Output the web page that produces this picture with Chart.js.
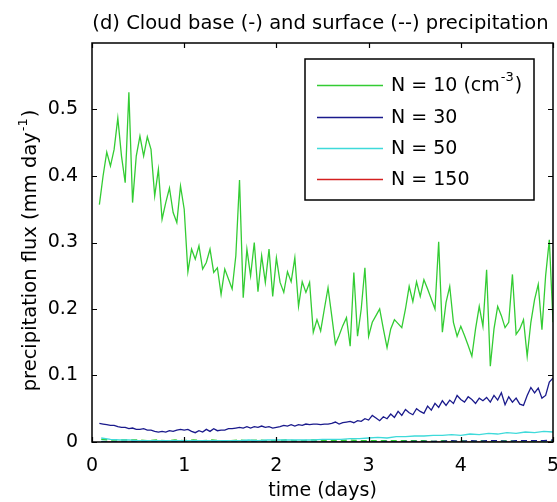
<!DOCTYPE html>
<html><head><meta charset="utf-8">
<script src="https://cdn.jsdelivr.net/npm/chart.js@4/dist/chart.umd.min.js"></script>
<style>html,body{margin:0;padding:0;background:#fff;overflow:hidden}#wrap{width:557px;height:502px}</style>
</head><body><div id="wrap"><canvas id="c" width="557" height="502"></canvas></div>
<script>
const titleText = "(d) Cloud base (-) and surface (--) precipitation";
const xTitle = "time (days)";
const yTitleMain = "precipitation flux (mm day";
const yTitleSup = "-1";
const xTicks = [0, 1, 2, 3, 4, 5];
const yTicks = [0, 0.1, 0.2, 0.3, 0.4, 0.5];
const legendLabels = ["N = 10 (cm", "N = 30", "N = 50", "N = 150"];
const legendSups = ["-3", "", "", ""];

const tFine = [
0.08,0.12,0.16,0.20,0.24,0.28,0.32,0.36,0.40,0.44,0.48,0.52,0.56,0.60,0.64,0.68,0.72,0.76,0.80,0.84,0.88,0.92,0.96,1.00,
1.04,1.08,1.12,1.16,1.20,1.24,1.28,1.32,1.36,1.40,1.44,1.48,1.52,1.56,1.60,1.64,1.68,1.72,1.76,1.80,1.84,1.88,1.92,1.96,2.00,
2.04,2.08,2.12,2.16,2.20,2.24,2.28,2.32,2.36,2.40,2.44,2.48,2.52,2.56,2.60,2.64,2.68,2.72,2.76,2.80,2.84,2.88,2.92,2.96,3.00,
3.04,3.08,3.12,3.16,3.20,3.24,3.28,3.32,3.36,3.40,3.44,3.48,3.52,3.56,3.60,3.64,3.68,3.72,3.76,3.80,3.84,3.88,3.92,3.96,4.00,
4.04,4.08,4.12,4.16,4.20,4.24,4.28,4.32,4.36,4.40,4.44,4.48,4.52,4.56,4.60,4.64,4.68,4.72,4.76,4.80,4.84,4.88,4.92,4.96,5.00];

const n10Base = [
0.357,0.400,0.436,0.415,0.440,0.487,0.430,0.390,0.526,0.360,0.430,0.460,0.430,0.459,0.440,0.370,0.410,0.335,0.360,0.382,0.345,0.330,0.385,0.350,
0.256,0.290,0.275,0.295,0.260,0.270,0.290,0.255,0.262,0.222,0.260,0.245,0.230,0.280,0.394,0.217,0.290,0.250,0.300,0.226,0.280,0.240,0.290,0.219,0.277,
0.240,0.225,0.256,0.241,0.277,0.204,0.241,0.225,0.240,0.165,0.184,0.167,0.200,0.232,0.190,0.147,0.160,0.175,0.187,0.144,0.255,0.159,0.200,0.262,0.159,
0.180,0.190,0.200,0.170,0.142,0.170,0.184,0.178,0.172,0.200,0.234,0.211,0.241,0.219,0.244,0.230,0.215,0.200,0.301,0.165,0.210,0.234,0.180,0.159,0.174,
0.160,0.145,0.129,0.170,0.204,0.174,0.259,0.114,0.170,0.204,0.190,0.172,0.180,0.252,0.162,0.170,0.184,0.129,0.180,0.214,0.237,0.169,0.250,0.304,0.180];

const n30Base = [
0.028,0.027,0.026,0.025,0.025,0.023,0.022,0.022,0.020,0.021,0.019,0.019,0.020,0.018,0.018,0.016,0.015,0.016,0.015,0.017,0.016,0.018,0.019,0.018,
0.019,0.016,0.014,0.017,0.015,0.019,0.016,0.020,0.017,0.018,0.018,0.020,0.020,0.021,0.022,0.021,0.023,0.021,0.023,0.022,0.024,0.022,0.023,0.021,0.022,
0.023,0.025,0.024,0.026,0.024,0.026,0.025,0.027,0.026,0.027,0.027,0.026,0.027,0.027,0.028,0.030,0.027,0.029,0.030,0.031,0.029,0.032,0.031,0.035,0.033,
0.040,0.036,0.032,0.038,0.035,0.042,0.037,0.046,0.040,0.049,0.044,0.041,0.050,0.046,0.043,0.054,0.048,0.058,0.052,0.062,0.055,0.063,0.058,0.070,0.064,
0.060,0.068,0.064,0.058,0.066,0.062,0.067,0.060,0.070,0.063,0.074,0.056,0.068,0.060,0.066,0.057,0.055,0.070,0.082,0.074,0.081,0.066,0.070,0.090,0.096];

const tCoarse = [
0.1,0.2,0.3,0.4,0.5,0.6,0.7,0.8,0.9,1.0,1.1,1.2,1.3,1.4,1.5,1.6,1.7,1.8,1.9,2.0,2.1,2.2,2.3,2.4,2.5,
2.6,2.7,2.8,2.9,3.0,3.1,3.2,3.3,3.4,3.5,3.6,3.7,3.8,3.9,4.0,4.1,4.2,4.3,4.4,4.5,4.6,4.7,4.8,4.9,5.0];

const n50Base = [
0.006,0.004,0.003,0.003,0.002,0.002,0.002,0.002,0.002,0.002,0.002,0.002,0.002,0.002,0.002,0.002,0.003,0.002,0.003,0.003,0.003,0.003,0.003,0.003,0.004,
0.004,0.004,0.005,0.005,0.006,0.007,0.006,0.008,0.008,0.009,0.009,0.010,0.010,0.011,0.010,0.012,0.011,0.013,0.012,0.014,0.013,0.015,0.014,0.016,0.015];
const n10Surf = [
0.004,0.003,0.003,0.003,0.003,0.002,0.003,0.002,0.003,0.002,0.003,0.002,0.003,0.002,0.002,0.003,0.002,0.003,0.002,0.002,0.003,0.002,0.002,0.003,0.002,
0.002,0.002,0.003,0.002,0.002,0.002,0.002,0.002,0.002,0.002,0.002,0.001,0.002,0.001,0.002,0.001,0.002,0.001,0.001,0.002,0.001,0.001,0.001,0.002,0.001];
const n30Surf = [
0.000,0.000,0.000,0.000,0.000,0.000,0.000,0.000,0.000,0.000,0.000,0.000,0.000,0.000,0.000,0.000,0.000,0.000,0.000,0.000,0.000,0.000,0.000,0.000,0.000,
0.000,0.000,0.000,0.000,0.000,0.000,0.001,0.000,0.001,0.001,0.001,0.001,0.001,0.002,0.001,0.002,0.001,0.002,0.002,0.001,0.002,0.002,0.002,0.002,0.003];
const n50Surf = [
0.001,0.001,0.000,0.000,0.000,0.000,0.000,0.000,0.000,0.000,0.000,0.000,0.000,0.000,0.000,0.000,0.000,0.000,0.000,0.000,0.000,0.000,0.000,0.000,0.000,
0.000,0.000,0.000,0.000,0.000,0.000,0.000,0.000,0.000,0.000,0.000,0.000,0.000,0.000,0.001,0.000,0.001,0.000,0.001,0.001,0.001,0.001,0.001,0.001,0.001];
const n150Base = [
0,0,0,0,0,0,0,0,0,0,0,0,0,0,0,0,0,0,0,0,0,0,0,0,0,
0,0,0,0,0,0,0,0,0,0,0,0,0,0,0,0,0,0,0,0,0,0,0,0,0];
const n150Surf = [
0,0,0,0,0,0,0,0,0,0,0,0,0,0,0,0,0,0,0,0,0,0,0,0,0,
0,0,0,0,0,0,0,0,0,0,0,0,0,0,0,0,0,0,0,0,0,0,0,0,0];

const GREEN = '#33cc33', BLUE = '#1a1a8c', CYAN = '#3fdada', RED = '#d42020';
const seriesColors = [GREEN, BLUE, CYAN, RED];
const FONT = '"DejaVu Sans", sans-serif';

function pts(t, v) { return t.map((x, i) => ({ x: x, y: v[i] })); }
function ds(t, v, color, dashed) {
  return { data: pts(t, v), borderColor: color, borderWidth: 1.3, pointRadius: 0, fill: false,
    tension: 0, borderDash: dashed ? [6, 4] : [] };
}

const deco = {
  id: 'deco',
  afterDraw(chart) {
    const ctx = chart.ctx, a = chart.chartArea;
    const xs = chart.scales.x, ys = chart.scales.y;
    ctx.save();
    ctx.strokeStyle = '#000'; ctx.lineWidth = 1.5;
    ctx.strokeRect(a.left, a.top, a.right - a.left, a.bottom - a.top);
    ctx.lineWidth = 1.2;
    const L = 5;
    ctx.beginPath();
    xTicks.forEach(v => {
      const p = Math.round(xs.getPixelForValue(v)) + 0.5;
      ctx.moveTo(p, a.bottom); ctx.lineTo(p, a.bottom - L);
      ctx.moveTo(p, a.top); ctx.lineTo(p, a.top + L);
    });
    yTicks.forEach(v => {
      const p = Math.round(ys.getPixelForValue(v)) + 0.5;
      ctx.moveTo(a.left, p); ctx.lineTo(a.left + L, p);
      ctx.moveTo(a.right, p); ctx.lineTo(a.right - L, p);
    });
    ctx.stroke();

    ctx.fillStyle = '#000';
    ctx.font = '19.5px ' + FONT; ctx.textAlign = 'center'; ctx.textBaseline = 'alphabetic';
    ctx.fillText(titleText, (a.left + a.right) / 2 - 2, 28.5);
    ctx.font = '19px ' + FONT;
    ctx.fillText(xTitle, (a.left + a.right) / 2, 496);
    ctx.save();
    ctx.translate(36, (a.top + a.bottom) / 2 + 9);
    ctx.rotate(-Math.PI / 2);
    ctx.textAlign = 'left';
    const fMain = '19.5px ' + FONT, fSup = '13px ' + FONT;
    ctx.font = fMain; const w1 = ctx.measureText(yTitleMain).width, w3 = ctx.measureText(')').width;
    ctx.font = fSup; const w2 = ctx.measureText(yTitleSup).width;
    let x0 = -(w1 + w2 + w3) / 2;
    ctx.font = fMain; ctx.fillText(yTitleMain, x0, 0);
    ctx.font = fSup; ctx.fillText(yTitleSup, x0 + w1 + 1, -9);
    ctx.font = fMain; ctx.fillText(')', x0 + w1 + w2 + 2, 0);
    ctx.restore();

    const bx = 305, by = 59, bw = 229, bh = 141;
    ctx.fillStyle = '#fff'; ctx.fillRect(bx, by, bw, bh);
    ctx.strokeStyle = '#000'; ctx.lineWidth = 1.5; ctx.strokeRect(bx, by, bw, bh);
    const rows = [85, 117, 148, 179];
    legendLabels.forEach((lab, i) => {
      const y = rows[i];
      ctx.strokeStyle = seriesColors[i]; ctx.lineWidth = 1.5;
      ctx.beginPath(); ctx.moveTo(317, y + 0.5); ctx.lineTo(383, y + 0.5); ctx.stroke();
      ctx.fillStyle = '#000'; ctx.textAlign = 'left'; ctx.textBaseline = 'middle';
      ctx.font = '19px ' + FONT;
      ctx.fillText(lab, 391, y + 1);
      if (legendSups[i]) {
        const w = ctx.measureText(lab).width;
        ctx.font = '13px ' + FONT;
        const ws = ctx.measureText(legendSups[i]).width;
        ctx.fillText(legendSups[i], 391 + w + 1, y - 7);
        ctx.font = '19px ' + FONT;
        ctx.fillText(')', 391 + w + ws + 2, y + 1);
      }
    });
    ctx.restore();
  }
};

new Chart(document.getElementById('c'), {
  type: 'line',
  data: {
    datasets: [
      ds(tFine, n10Base, GREEN, false),
      ds(tFine, n30Base, BLUE, false),
      ds(tCoarse, n50Base, CYAN, false),
      ds(tCoarse, n30Surf, BLUE, true),
      ds(tCoarse, n10Surf, GREEN, true),
      ds(tCoarse, n50Surf, CYAN, true),
      ds(tCoarse, n150Base, RED, false),
      ds(tCoarse, n150Surf, RED, true)
    ]
  },
  options: {
    responsive: false, animation: false, devicePixelRatio: 1,
    layout: { padding: { top: 43, right: 4, left: 0, bottom: 0 } },
    plugins: { legend: { display: false }, title: { display: false }, tooltip: { enabled: false } },
    scales: {
      x: {
        type: 'linear', min: 0, max: 5,
        afterBuildTicks(s) { s.ticks = xTicks.map(v => ({ value: v })); },
        afterFit(s) { s.height = 60; s.paddingLeft = 0; s.paddingRight = 0; },
        ticks: { color: '#000', font: { family: FONT, size: 19 }, padding: 5, maxRotation: 0, autoSkip: false,
          callback: v => String(v) },
        grid: { display: false }, border: { display: false }
      },
      y: {
        type: 'linear', min: 0, max: 0.6,
        afterBuildTicks(s) { s.ticks = yTicks.map(v => ({ value: v })); },
        afterFit(s) { s.width = 92; s.paddingTop = 0; s.paddingBottom = 0; },
        ticks: { color: '#000', font: { family: FONT, size: 19 }, padding: 6,
          callback: v => String(+v.toFixed(1)) },
        grid: { display: false }, border: { display: false }
      }
    }
  },
  plugins: [deco]
});
</script>
</body></html>
